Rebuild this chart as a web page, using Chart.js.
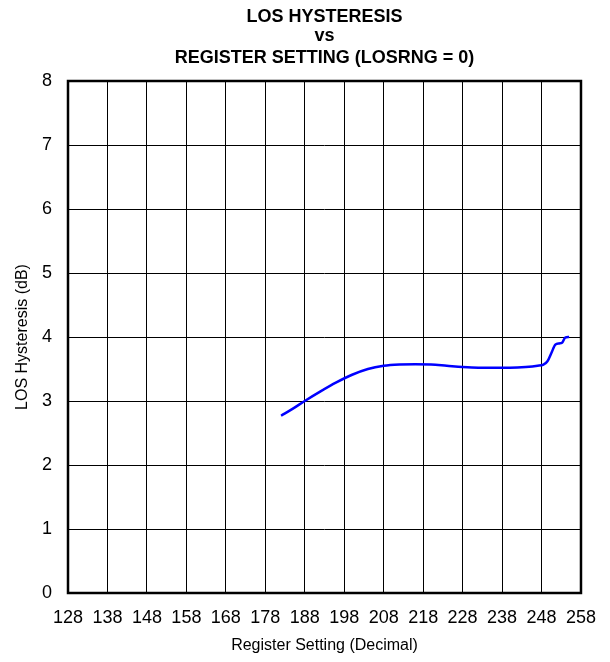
<!DOCTYPE html>
<html>
<head>
<meta charset="utf-8">
<script src="https://cdn.jsdelivr.net/npm/chart.js@4/dist/chart.umd.min.js"></script>
<style>
  html, body { margin: 0; padding: 0; background: #fff; }
  #wrap { width: 610px; height: 662px; }
</style>
</head>
<body>
<div id="wrap"><canvas id="myChart" width="610" height="662"></canvas></div>
<script>
const FONT = '"Liberation Sans", Arial, Helvetica, sans-serif';

// register setting (decimal) vs LOS hysteresis (dB)
const registerSetting = [182, 185, 188, 192, 196, 200, 204, 208, 212, 216, 220, 224, 228, 232, 236, 240, 244, 247, 248.5, 249.5, 250.5, 251.5, 252.5, 253.2, 254, 255];
const hysteresisDb = [2.77, 2.88, 3.0, 3.15, 3.29, 3.41, 3.5, 3.55, 3.57, 3.575, 3.57, 3.55, 3.53, 3.52, 3.52, 3.52, 3.53, 3.55, 3.57, 3.62, 3.75, 3.88, 3.9, 3.91, 3.99, 4.0];

const titleLines = ["LOS HYSTERESIS", "vs", "REGISTER SETTING (LOSRNG = 0)"];
const xTitle = "Register Setting (Decimal)";
const yTitle = "LOS Hysteresis (dB)";

const xMin = 128, xMax = 258, xStep = 10;
const yMin = 0, yMax = 8, yStep = 1;

// title, axis titles and frame
const decorPlugin = {
  id: "decor",
  afterDraw(chart) {
    const { ctx, chartArea } = chart;
    const cx = (chartArea.left + chartArea.right) / 2;
    ctx.save();
    ctx.fillStyle = "#000";
    ctx.textAlign = "center";
    ctx.textBaseline = "alphabetic";
    ctx.font = "bold 18px " + FONT;
    ctx.fillText(titleLines[0], cx, 22);
    ctx.fillText(titleLines[1], cx, 41);
    ctx.fillText(titleLines[2], cx, 63);

    ctx.font = "16px " + FONT;
    ctx.textBaseline = "middle";
    ctx.fillText(xTitle, cx, 646);

    ctx.translate(23, (chartArea.top + chartArea.bottom) / 2);
    ctx.rotate(-Math.PI / 2);
    ctx.fillText(yTitle, 0, 0);
    ctx.restore();

    ctx.save();
    ctx.strokeStyle = "#000";
    ctx.lineWidth = 2.5;
    ctx.strokeRect(chartArea.left, chartArea.top, chartArea.right - chartArea.left, chartArea.bottom - chartArea.top);
    ctx.restore();
  }
};

const ctx = document.getElementById("myChart").getContext("2d");
new Chart(ctx, {
  type: "line",
  data: {
    datasets: [
      {
        data: registerSetting.map((x, i) => ({ x: x, y: hysteresisDb[i] })),
        borderColor: "#0000ff",
        borderWidth: 2.5,
        pointRadius: 0,
        tension: 0.4,
        cubicInterpolationMode: "monotone",
        fill: false,
      },
    ],
  },
  options: {
    responsive: false,
    animation: false,
    layout: { padding: { top: 81, right: 28, left: 0, bottom: 0 } },
    plugins: {
      legend: { display: false },
      tooltip: { enabled: false },
      title: { display: false },
    },
    scales: {
      x: {
        type: "linear",
        min: xMin,
        max: xMax,
        afterFit: (scale) => { scale.height = 69; },
        afterBuildTicks: (scale) => {
          const t = [];
          for (let v = xMin; v <= xMax; v += xStep) t.push({ value: v });
          scale.ticks = t;
        },
        ticks: {
          color: "#000",
          font: { family: FONT, size: 18 },
          padding: 14,
          maxRotation: 0,
          autoSkip: false,
        },
        grid: { color: "#000", lineWidth: 1, drawTicks: false },
        border: { display: false },
      },
      y: {
        type: "linear",
        min: yMin,
        max: yMax,
        afterFit: (scale) => { scale.width = 68; },
        ticks: {
          stepSize: yStep,
          color: "#000",
          font: { family: FONT, size: 18 },
          padding: 16,
        },
        grid: { color: "#000", lineWidth: 1, drawTicks: false },
        border: { display: false },
      },
    },
  },
  plugins: [decorPlugin],
});
</script>
</body>
</html>
